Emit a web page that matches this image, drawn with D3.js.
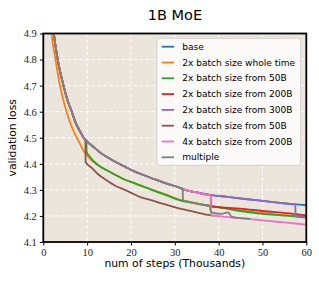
<!DOCTYPE html>
<html><head><meta charset="utf-8">
<script src="https://cdn.jsdelivr.net/npm/d3@7"></script>
<style>
html,body{margin:0;padding:0;background:#fff;}
svg{display:block;}
</style></head>
<body>
<script>
// ---- data ----
const title = "1B MoE";
const xLabel = "num of steps (Thousands)";
const yLabel = "validation loss";
const xTicks = [0, 10, 20, 30, 40, 50, 60];
const yTicks = [4.1, 4.2, 4.3, 4.4, 4.5, 4.6, 4.7, 4.8, 4.9];
const seriesNames = ["base", "2x batch size whole time", "2x batch size from 50B", "2x batch size from 200B",
  "2x batch size from 300B", "4x batch size from 50B", "4x batch size from 200B", "multiple"];
const seriesColors = ["#1f77b4", "#ff7f0e", "#2ca02c", "#d62728", "#9467bd", "#8c564b", "#e377c2", "#7f7f7f"];

// [step (thousands), loss]
const base = [[1.6,5.05],[2.4,4.9],[3.3,4.8],[4.6,4.7],[5.5,4.645],[6.5,4.6],[7.2,4.565],[8.2,4.53],[9.2,4.5],
  [10.5,4.478],[11.8,4.46],[13,4.443],[14.5,4.426],[16.4,4.408],[18.5,4.39],[20.9,4.37],[22.1,4.362],[25.5,4.340],
  [28,4.325],[31,4.309],[32,4.302],[35,4.29],[38,4.281],[42,4.273],[46,4.265],[50,4.258],[54,4.25],[57.5,4.244],[60,4.241]];
const wholeTime2x = [[1.3,5.05],[1.9,4.9],[2.8,4.8],[3.8,4.7],[5.3,4.6],[6.3,4.55],[7.2,4.515],[8.2,4.482],[9.1,4.452],
  [10,4.432],[11,4.413],[12.9,4.39],[14.5,4.375],[16.4,4.358],[18.5,4.34],[20.9,4.325],[22.1,4.317],[25.5,4.297],[28,4.282],
  [31.2,4.262],[34,4.252],[37.3,4.241],[40,4.234],[44,4.224],[48,4.215],[52,4.208],[56,4.202],[60,4.197]];
const from50B2x = [[9.8,4.49],[9.9,4.445],[10.5,4.43],[11.8,4.405],[13,4.39],[14.5,4.375],[16.4,4.358],[18.5,4.34],
  [20.9,4.325],[22.1,4.317],[25.5,4.295],[28,4.28],[31.2,4.26],[34,4.25],[37.3,4.24],[41.5,4.229],[45,4.219],
  [49,4.21],[52,4.205],[56,4.2],[60,4.196]];
const from200B2x = [[38.2,4.281],[38.25,4.237],[41.6,4.232],[44.9,4.228],[50,4.219],[57.1,4.208],[60,4.202]];
const from300B2x = [[57.5,4.244],[57.55,4.197],[60,4.193]];
const from50B4x = [[9.6,4.49],[9.65,4.407],[11,4.385],[12.5,4.36],[14.5,4.336],[16.5,4.315],[18.6,4.3],[20.5,4.285],
  [22.1,4.272],[24.4,4.262],[27,4.248],[31.2,4.228],[35,4.214],[38,4.203],[39,4.2]];
const from200B4x = [[38.2,4.281],[38.25,4.203],[40,4.199],[43,4.194],[46.4,4.189],[50,4.183],[55,4.175],[60,4.167]];
const multiple = [[31.8,4.304],[31.85,4.26],[33.5,4.253],[35.8,4.245],[38,4.237],[38.2,4.215],[40.7,4.208],
  [41.6,4.212],[42.2,4.214],[43,4.196],[45,4.192],[47.2,4.189]];

// branched runs share the base curve before their branch point
const withBase = br => base.filter(d => d[0] < br[0][0]).concat(br);
const series = [base, wholeTime2x, withBase(from50B2x), withBase(from200B2x), withBase(from300B2x),
  withBase(from50B4x), withBase(from200B4x), withBase(multiple)];

// ---- layout ----
const W = 319, H = 283;
const m = {left: 43.3, right: 306.3, top: 33.5, bottom: 242};
const svg = d3.select("body").append("svg").attr("width", W).attr("height", H);
const x = d3.scaleLinear().domain([0, 60]).range([m.left, m.right]);
const y = d3.scaleLinear().domain([4.1, 4.9]).range([m.bottom, m.top]);

svg.append("rect").attr("x", m.left).attr("y", m.top).attr("width", m.right - m.left).attr("height", m.bottom - m.top)
  .attr("fill", "#ebe5dc");

// grid
const grid = svg.append("g");
grid.selectAll("line.gx").data(xTicks.slice(1, -1)).enter().append("line")
  .attr("x1", d => x(d)).attr("x2", d => x(d)).attr("y1", m.top).attr("y2", m.bottom)
  .attr("stroke", "#fff").attr("stroke-width", 1).attr("stroke-dasharray", "3.5,2.5");
grid.selectAll("line.gy").data(yTicks.slice(1, -1)).enter().append("line")
  .attr("y1", d => y(d)).attr("y2", d => y(d)).attr("x1", m.left).attr("x2", m.right)
  .attr("stroke", "#fff").attr("stroke-width", 1).attr("stroke-dasharray", "3.5,2.5");

svg.append("clipPath").attr("id", "clip").append("rect")
  .attr("x", m.left).attr("y", m.top).attr("width", m.right - m.left).attr("height", m.bottom - m.top);

const line = d3.line().x(d => x(d[0])).y(d => y(d[1])).curve(d3.curveMonotoneX);
svg.append("g").attr("clip-path", "url(#clip)").selectAll("path").data(series).enter().append("path")
  .attr("d", line).attr("fill", "none").attr("stroke", (d, i) => seriesColors[i])
  .attr("stroke-width", 1.8).attr("stroke-linejoin", "round").attr("stroke-linecap", "butt");

// axes
const fmtY = d3.format(".1f");
const xAxis = svg.append("g").attr("transform", `translate(0,${m.bottom})`)
  .call(d3.axisBottom(x).tickValues(xTicks).tickFormat(d3.format("d")).tickSize(3.5).tickPadding(3));
const yAxis = svg.append("g").attr("transform", `translate(${m.left},0)`)
  .call(d3.axisLeft(y).tickValues(yTicks).tickFormat(fmtY).tickSize(3.5).tickPadding(3));
[xAxis, yAxis].forEach(a => {
  a.select(".domain").remove();
  a.selectAll("line").attr("stroke", "#000").attr("stroke-width", 1);
  a.selectAll("text").attr("font-family", "'Liberation Serif', 'DejaVu Serif', serif").attr("font-size", 10.5).attr("fill", "#222");
});

// frame
svg.append("rect").attr("x", m.left).attr("y", m.top).attr("width", m.right - m.left).attr("height", m.bottom - m.top)
  .attr("fill", "none").attr("stroke", "#000").attr("stroke-width", 1.8);

// labels
const sans = "'DejaVu Sans', sans-serif";
svg.append("text").attr("x", 175).attr("y", 20).attr("text-anchor", "middle").attr("font-family", sans)
  .attr("font-size", 14.5).attr("fill", "#000").text(title);
svg.append("text").attr("x", (m.left + m.right) / 2).attr("y", 266.5).attr("text-anchor", "middle").attr("font-family", sans)
  .attr("font-size", 10.8).attr("fill", "#000").text(xLabel);
svg.append("text").attr("transform", `translate(16,${(m.top + m.bottom) / 2}) rotate(-90)`).attr("text-anchor", "middle")
  .attr("font-family", sans).attr("font-size", 10.8).attr("fill", "#000").text(yLabel);

// legend
const lg = svg.append("g");
lg.append("rect").attr("x", 157).attr("y", 38.3).attr("width", 143.7).attr("height", 127).attr("rx", 2.5)
  .attr("fill", "#fff").attr("fill-opacity", 0.8).attr("stroke", "#ccc").attr("stroke-width", 0.8);
const rows = lg.selectAll("g.row").data(seriesNames).enter().append("g")
  .attr("transform", (d, i) => `translate(0,${46.7 + i * 15.8})`);
rows.append("line").attr("x1", 161.7).attr("x2", 174).attr("y1", 0).attr("y2", 0)
  .attr("stroke", (d, i) => seriesColors[i]).attr("stroke-width", 1.8);
rows.append("text").attr("x", 182.3).attr("y", 0).attr("dy", "0.35em").attr("font-family", sans)
  .attr("font-size", 9.05).attr("fill", "#000").text(d => d);
</script>
</body></html>
